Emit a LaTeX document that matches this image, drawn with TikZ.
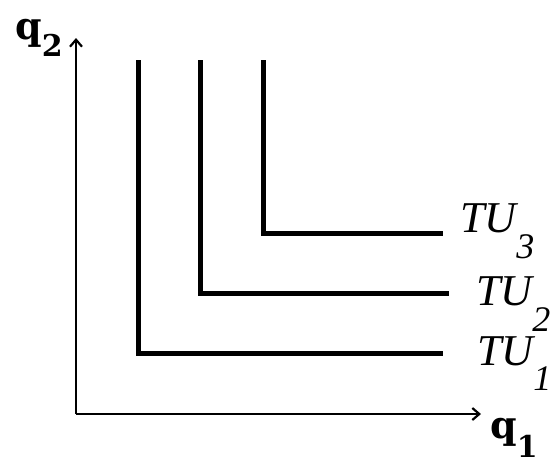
\documentclass[tikz,border=0pt]{standalone}
\usepackage{fontspec}
\setmainfont{Liberation Serif}
\newfontfamily\qfont{DejaVu Serif}
\usetikzlibrary{arrows.meta}
\newcommand{\lowsub}[3]{\raisebox{-#1pt}{\fontsize{#2}{#2}\selectfont #3}}
\begin{document}
\begin{tikzpicture}[x=1pt,y=-1pt,
  axis/.style={line width=2.2pt,-{Straight Barb[length=7pt,width=12pt,line width=2.2pt]}},
  curve/.style={line width=5pt,line cap=butt,line join=miter},
  tulab/.style={font=\itshape\fontsize{44}{44}\selectfont,anchor=base west,inner sep=0pt},
  qlab/.style={font=\qfont\bfseries\fontsize{38}{38}\selectfont,anchor=base west,inner sep=0pt}]
\useasboundingbox (0,0) rectangle (554,464);
\coordinate (O) at (76,414);
\coordinate (Ytip) at (76,38);
\coordinate (Xtip) at (481,414);
\draw[axis] (O) -- (Ytip);
\draw[axis] (O) -- (Xtip);
% curves
\coordinate (a1) at (138,60); \coordinate (c1) at (138,353); \coordinate (e1) at (443,353);
\coordinate (a2) at (200,60); \coordinate (c2) at (200,293); \coordinate (e2) at (449,293);
\coordinate (a3) at (263,60); \coordinate (c3) at (263,233); \coordinate (e3) at (443,233);
\draw[curve] (a1) -- (c1) -- (e1);
\draw[curve] (a2) -- (c2) -- (e2);
\draw[curve] (a3) -- (c3) -- (e3);
\node[tulab] (tu3) at (460,232) {TU\lowsub{26}{36}{3}};
\node[tulab] (tu2) at (476,305) {TU\lowsub{26}{36}{2}};
\node[tulab] (tu1) at (477,365) {TU\lowsub{25}{36}{1}};
\node[qlab] (q2) at (15,39) {q\lowsub{17}{30}{2}};
\node[qlab] (q1) at (490,438) {q\lowsub{19}{30}{1}};
\end{tikzpicture}
\end{document}
